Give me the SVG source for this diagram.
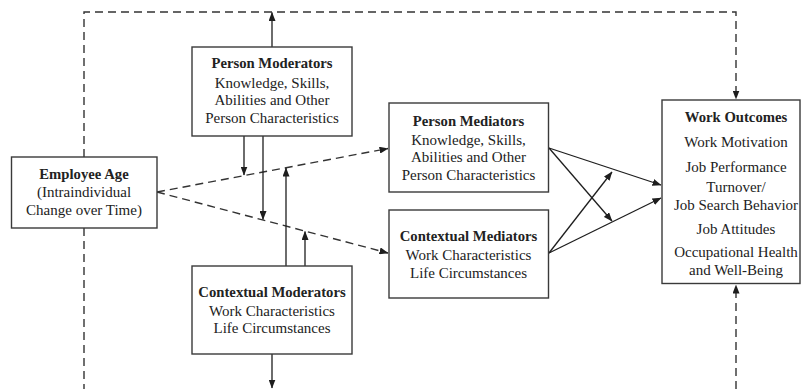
<svg xmlns="http://www.w3.org/2000/svg" width="801" height="389" viewBox="0 0 801 389">
<defs>
<marker id="ah" markerUnits="userSpaceOnUse" markerWidth="9" markerHeight="7" refX="8.5" refY="3.5" orient="auto">
<path d="M0,0 L9,3.5 L0,7 z" fill="#1e1e1e" stroke="none"/>
</marker>
</defs>
<style>
.box{fill:#fff;stroke:#3a3a3a;stroke-width:1.4}
.t{font-family:"Liberation Serif","Times New Roman",serif;font-size:15px;fill:#222;text-anchor:middle}
.b{font-weight:bold;font-size:14.7px}
.s{stroke:#1e1e1e;stroke-width:1.3;fill:none}
.d{stroke:#333;stroke-width:1.4;fill:none;stroke-dasharray:8,5}
</style>
<rect width="801" height="389" fill="#fff"/>
<g id="connectors">
<polyline class="d" points="84,157 84,12 736,12 736,99" marker-end="url(#ah)"/>
<line class="d" x1="84" y1="228" x2="84" y2="389"/>
<line class="d" x1="736" y1="389" x2="736" y2="285" marker-end="url(#ah)"/>
<line class="d" x1="157" y1="192" x2="388" y2="148.5" marker-end="url(#ah)"/>
<line class="d" x1="157" y1="192" x2="388" y2="253" marker-end="url(#ah)"/>
<line class="s" x1="272" y1="47" x2="272" y2="12.5" marker-end="url(#ah)"/>
<line class="s" x1="244" y1="136" x2="244" y2="175" marker-end="url(#ah)"/>
<line class="s" x1="263" y1="136" x2="263" y2="219.5" marker-end="url(#ah)"/>
<line class="s" x1="286" y1="266" x2="286" y2="168" marker-end="url(#ah)"/>
<line class="s" x1="305" y1="266" x2="305" y2="231.5" marker-end="url(#ah)"/>
<line class="s" x1="272" y1="354" x2="272" y2="388" marker-end="url(#ah)"/>
<line class="s" x1="549" y1="148" x2="661" y2="185" marker-end="url(#ah)"/>
<line class="s" x1="549" y1="148" x2="612" y2="221" marker-end="url(#ah)"/>
<line class="s" x1="549" y1="253" x2="661" y2="198" marker-end="url(#ah)"/>
<line class="s" x1="549" y1="253" x2="612" y2="172" marker-end="url(#ah)"/>
</g>
<g id="employee-age">
<rect class="box" x="11.5" y="157" width="145.5" height="71"/>
<text class="t b" x="84" y="179">Employee Age</text>
<text class="t" x="84" y="197">(Intraindividual</text>
<text class="t" x="84" y="215">Change over Time)</text>
</g>
<g id="person-moderators">
<rect class="box" x="192" y="47" width="160" height="89"/>
<text class="t b" x="272" y="68">Person Moderators</text>
<text class="t" x="272" y="88">Knowledge, Skills,</text>
<text class="t" x="272" y="105">Abilities and Other</text>
<text class="t" x="272" y="123">Person Characteristics</text>
</g>
<g id="contextual-moderators">
<rect class="box" x="192" y="266" width="160" height="88"/>
<text class="t b" x="272" y="297">Contextual Moderators</text>
<text class="t" x="272" y="316">Work Characteristics</text>
<text class="t" x="272" y="333">Life Circumstances</text>
</g>
<g id="person-mediators">
<rect class="box" x="389" y="103" width="159.5" height="89"/>
<text class="t b" x="468.5" y="126">Person Mediators</text>
<text class="t" x="468.5" y="145">Knowledge, Skills,</text>
<text class="t" x="468.5" y="162">Abilities and Other</text>
<text class="t" x="468.5" y="180">Person Characteristics</text>
</g>
<g id="contextual-mediators">
<rect class="box" x="389" y="210" width="159.5" height="88"/>
<text class="t b" x="468.5" y="241">Contextual Mediators</text>
<text class="t" x="468.5" y="260">Work Characteristics</text>
<text class="t" x="468.5" y="278">Life Circumstances</text>
</g>
<g id="work-outcomes">
<rect class="box" x="662" y="100" width="138" height="183.5"/>
<text class="t b" x="736" y="122">Work Outcomes</text>
<text class="t" x="736" y="147">Work Motivation</text>
<text class="t" x="736" y="172">Job Performance</text>
<text class="t" x="736" y="192">Turnover/</text>
<text class="t" x="736" y="210">Job Search Behavior</text>
<text class="t" x="736" y="234">Job Attitudes</text>
<text class="t" x="736" y="257">Occupational Health</text>
<text class="t" x="736" y="275">and Well-Being</text>
</g>
</svg>
